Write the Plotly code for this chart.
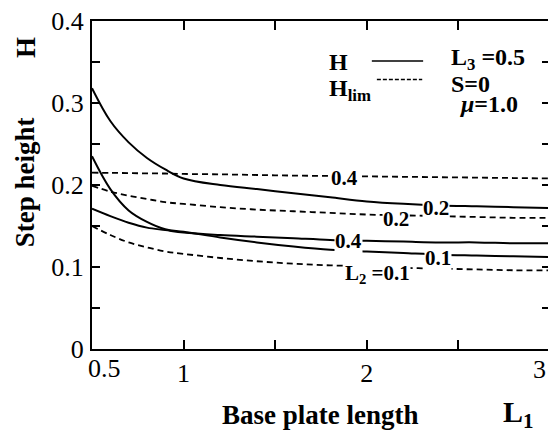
import plotly.graph_objects as go

# ---- data ----
L1 = [0.5, 0.6, 0.7, 0.8, 0.9, 1.0, 1.2, 1.4, 1.6, 1.8, 2.0, 2.2, 2.4, 2.6, 2.8, 3.0]

H_L2_02 = [0.318, 0.278, 0.252, 0.233, 0.219, 0.208, 0.200, 0.195, 0.190, 0.185, 0.180, 0.177, 0.175, 0.174, 0.173, 0.172]
H_L2_01 = [0.235, 0.195, 0.169, 0.155, 0.146, 0.143, 0.136, 0.130, 0.125, 0.121, 0.119, 0.117, 0.115, 0.114, 0.113, 0.112]
H_L2_04 = [0.171, 0.162, 0.154, 0.148, 0.145, 0.142, 0.139, 0.137, 0.135, 0.133, 0.132, 0.131, 0.130, 0.130, 0.129, 0.129]

Hlim_L2_04 = [0.215, 0.2148, 0.2145, 0.2142, 0.214, 0.2135, 0.213, 0.2122, 0.2115, 0.211, 0.2105, 0.210, 0.2095, 0.209, 0.2085, 0.208]
Hlim_L2_02 = [0.199, 0.192, 0.187, 0.183, 0.179, 0.177, 0.173, 0.170, 0.168, 0.166, 0.164, 0.163, 0.162, 0.161, 0.160, 0.160]
Hlim_L2_01 = [0.150, 0.139, 0.130, 0.124, 0.119, 0.116, 0.111, 0.107, 0.104, 0.102, 0.101, 0.099, 0.098, 0.097, 0.096, 0.096]

x_tickvals = [0.5, 1.0, 1.5, 2.0, 2.5, 3.0]
x_ticktext = ["", "1", "", "2", "", ""]
x_edge_labels = ["0.5", "3"]          # end labels drawn as annotations (offset inward as in the reference)
y_tickvals = [0, 0.05, 0.1, 0.15, 0.2, 0.25, 0.3, 0.35, 0.4]
y_ticktext = ["0", "", "0.1", "", "0.2", "", "0.3", "", "0.4"]

# curve labels (text, x, y)
label_text = ["0.4", "0.2", "0.2", "0.4", "0.1", "L<sub>2</sub> =0.1"]
label_x = [1.88, 2.38, 2.16, 1.90, 2.39, 2.06]
label_y = [0.2085, 0.1715, 0.159, 0.132, 0.1115, 0.092]

SERIF = "Liberation Serif, Times New Roman, serif"

fig = go.Figure()
solid = dict(color="black", width=2)
dashed = dict(color="black", width=1.8, dash="6px,4px")
for ys in [H_L2_02, H_L2_01, H_L2_04]:
    fig.add_trace(go.Scatter(x=L1, y=ys, mode="lines", line=dict(solid, shape="spline"), showlegend=False))
for ys in [Hlim_L2_04, Hlim_L2_02, Hlim_L2_01]:
    fig.add_trace(go.Scatter(x=L1, y=ys, mode="lines", line=dict(dashed, shape="spline"), showlegend=False))

annotations = []
for t, x, y in zip(label_text, label_x, label_y):
    annotations.append(dict(x=x, y=y, xref="x", yref="y", text="<b>%s</b>" % t, showarrow=False,
                            font=dict(family=SERIF, size=21, color="black"), bgcolor="white", borderpad=0))

# x tick labels at the two ends
annotations.append(dict(x=x_tickvals[0], y=0, xref="x", yref="paper", text=x_edge_labels[0], showarrow=False,
                        xanchor="left", yanchor="top", xshift=-6, yshift=-3,
                        font=dict(family=SERIF, size=26, color="black")))
annotations.append(dict(x=x_tickvals[-1], y=0, xref="x", yref="paper", text=x_edge_labels[1], showarrow=False,
                        xanchor="right", yanchor="top", xshift=-2, yshift=-4,
                        font=dict(family=SERIF, size=26, color="black")))

def txt(text, x, y, size, xanchor="center", yanchor="middle", angle=0):
    annotations.append(dict(x=x, y=y, xref="paper", yref="paper", text=text, showarrow=False,
                            xanchor=xanchor, yanchor=yanchor, textangle=angle,
                            font=dict(family=SERIF, size=size, color="black")))

# axis titles
txt("<b>Base plate length</b>", 0.498, -0.20, 27)
txt("<b>L<sub>1</sub></b>", 0.893, -0.197, 30, xanchor="left")
txt("<b>Step height</b>", -0.146, 0.509, 27, angle=-90)
txt("<b>H</b>", -0.144, 0.918, 27, angle=-90)

# legend block
txt("<b>H</b>", 0.513, 0.876, 24, xanchor="left")
txt("<b>H<sub>lim</sub></b>", 0.513, 0.790, 24, xanchor="left")
txt("<b>L<sub>3</sub> =0.5</b>", 0.780, 0.884, 24, xanchor="left")
txt("<b>S=0</b>", 0.780, 0.808, 24, xanchor="left")
txt("<b><i>\u03bc</i>=1.0</b>", 0.797, 0.746, 24, xanchor="left")

shapes = [
    dict(type="line", xref="paper", yref="paper", x0=0.611, x1=0.723, y0=0.878, y1=0.878,
         line=dict(color="black", width=1.5)),
    dict(type="line", xref="paper", yref="paper", x0=0.622, x1=0.721, y0=0.822, y1=0.822,
         line=dict(color="black", width=1.5, dash="4px,2px")),
]

# the page body has an 8px margin, so the figure is sized and padded to land on the reference frame
fig.update_layout(
    width=548, height=424,
    margin=dict(l=84, r=6, t=13, b=83, autoexpand=False),
    paper_bgcolor="white", plot_bgcolor="white",
    font=dict(family=SERIF, size=26, color="black"),
    annotations=annotations, shapes=shapes,
    showlegend=False,
)
fig.update_xaxes(range=[0.5, 3.0], tickvals=x_tickvals, ticktext=x_ticktext,
                 ticks="inside", ticklen=9, tickwidth=1.5, tickcolor="black",
                 showline=True, linewidth=2, linecolor="black", mirror="ticks",
                 showgrid=False, zeroline=False, ticklabelstandoff=0, automargin=False,
                 ticklabeloverflow="allow", tickfont=dict(family=SERIF, size=26))
fig.update_yaxes(range=[0, 0.4], tickvals=y_tickvals, ticktext=y_ticktext,
                 ticks="inside", ticklen=8, tickwidth=1.5, tickcolor="black",
                 showline=True, linewidth=2, linecolor="black", mirror="ticks",
                 showgrid=False, zeroline=False, ticklabelstandoff=1, automargin=False,
                 ticklabeloverflow="allow", tickfont=dict(family=SERIF, size=26))

fig.write_html("out.html")
